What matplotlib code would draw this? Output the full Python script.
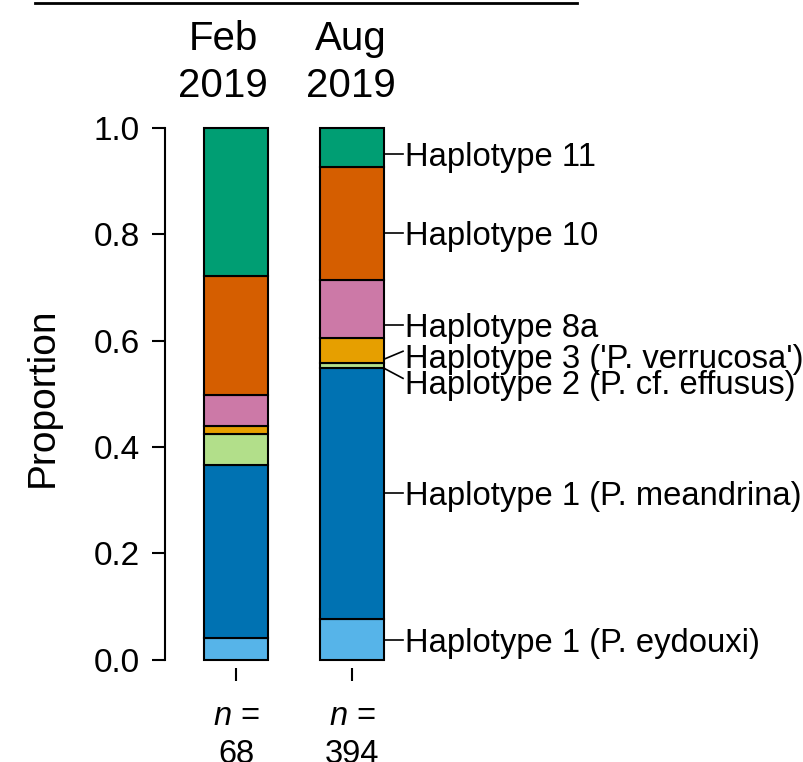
import numpy as np
import matplotlib.pyplot as plt
from matplotlib.lines import Line2D

plt.rcParams['font.family'] = 'Liberation Sans'
plt.rcParams['mathtext.fontset'] = 'custom'
plt.rcParams['mathtext.it'] = 'Liberation Sans:italic'
plt.rcParams['mathtext.rm'] = 'Liberation Sans'

# sampling periods and sample sizes
periods = ['Feb\n2019', 'Aug\n2019']
sample_n = ['68', '394']

# haplotypes, stacked bottom to top
haplotypes = ['Haplotype 1 (P. eydouxi)', 'Haplotype 1 (P. meandrina)',
              'Haplotype 2 (P. cf. effusus)', "Haplotype 3 ('P. verrucosa')",
              'Haplotype 8a', 'Haplotype 10', 'Haplotype 11']
colors = ['#56B4E9', '#0072B2', '#B2DF8A', '#E69F00', '#CC79A7', '#D55E00', '#009E73']

# proportions
feb = [0.040, 0.326, 0.058, 0.015, 0.059, 0.224, 0.278]
aug = [0.076, 0.472, 0.009, 0.047, 0.110, 0.212, 0.074]

fig = plt.figure(figsize=(8.04, 7.62), dpi=100)
ax = fig.add_axes([0.2052, 0.1345, 0.7948, 0.6975])

x = np.arange(2)
width = 0.554
data = np.array([feb, aug])
bottom = np.zeros(2)
for i in range(len(haplotypes)):
    ax.bar(x, data[:, i], width, bottom=bottom, color=colors[i],
           edgecolor='black', linewidth=1.5, clip_on=False)
    bottom += data[:, i]

ax.set_xlim(-0.619, 4.913)
ax.set_ylim(0, 1)

# axes styling
for s in ['top', 'right', 'bottom']:
    ax.spines[s].set_visible(False)
ax.spines['left'].set_linewidth(1.5)
ax.spines['bottom'].set_position(('outward', 5.8))
ax.set_yticks([0, 0.2, 0.4, 0.6, 0.8, 1.0])
ax.set_yticklabels(['%.1f' % v for v in [0, 0.2, 0.4, 0.6, 0.8, 1.0]])
ax.tick_params(axis='y', length=9.4, width=1.5, pad=8.6, labelsize=24)
ax.set_xticks(x)
ax.set_xticklabels(['', ''])
ax.tick_params(axis='x', length=9.4, width=1.5)

# period labels on top
top_x = [-0.117, 0.99]
for xi, p in zip(top_x, periods):
    month, year = p.split('\n')
    ax.text(xi, 1.147, month, ha='center', va='baseline', fontsize=29)
    ax.text(xi, 1.058, year, ha='center', va='baseline', fontsize=29)

# sample sizes below
for xi, n in zip(x, sample_n):
    ax.text(xi, -0.124, '$n$ =', ha='center', va='baseline', fontsize=23.5)
    ax.text(xi, -0.195, n, ha='center', va='baseline', fontsize=23.5)

# haplotype labels next to the August bar
text_y = [0.036, 0.313, 0.522, 0.571, 0.629, 0.802, 0.951]
line_start = [0.036, 0.313, 0.548, 0.565, 0.629, 0.802, 0.951]
line_end = [0.036, 0.313, 0.529, 0.580, 0.629, 0.802, 0.951]
for name, ty, ys, ye in zip(haplotypes, text_y, line_start, line_end):
    ax.plot([1 + width / 2, 1.4416], [ys, ye], color='black', lw=1.2, clip_on=False)
    ax.text(1.459, ty - 0.0217, name, ha='left', va='baseline', fontsize=23.6)

fig.text(43 / 804, 1 - 397 / 762, 'Proportion', rotation=90,
         ha='center', va='center', fontsize=28)

# underline of the cropped heading
fig.add_artist(Line2D([35 / 804, 577 / 804], [1 - 3 / 762] * 2,
                      transform=fig.transFigure, color='black', lw=2))

fig.savefig('out.png', dpi=100)
